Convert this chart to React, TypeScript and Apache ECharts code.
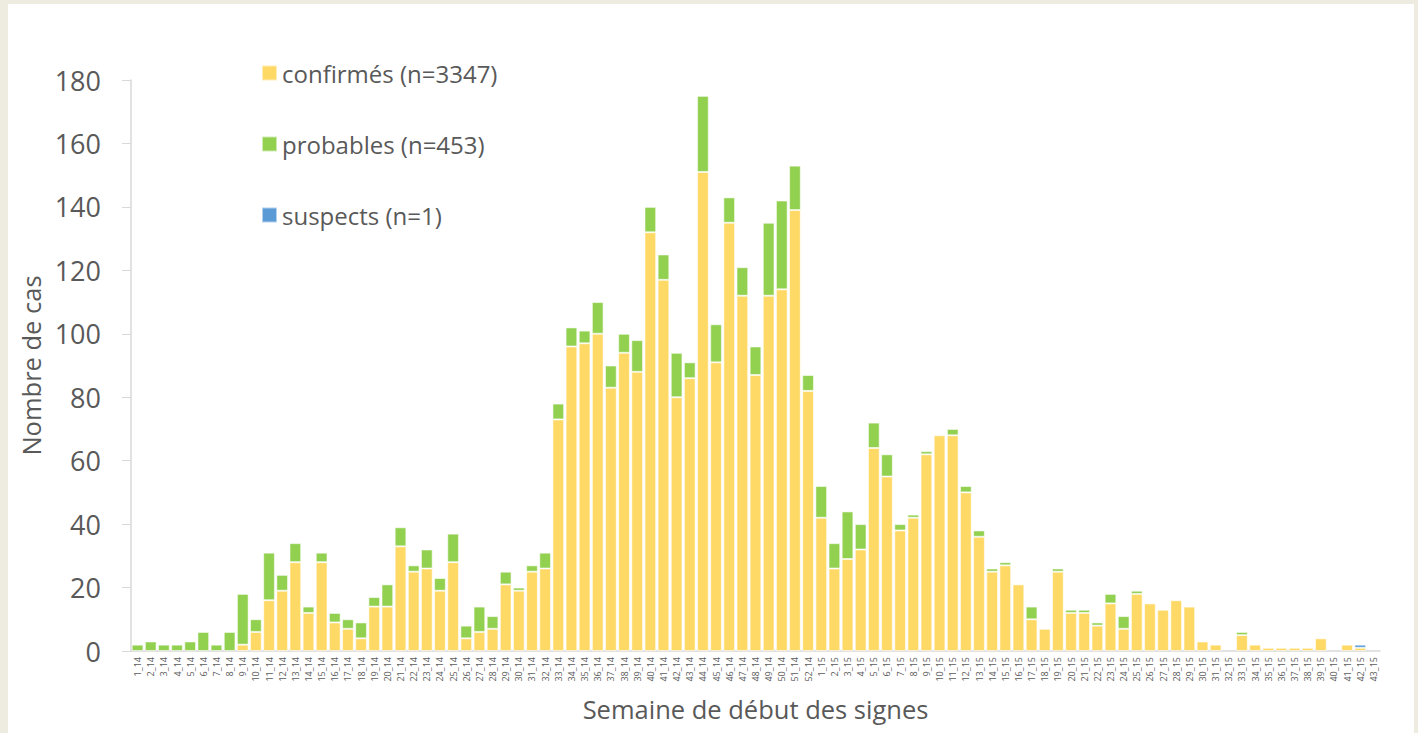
import React, { useEffect, useRef } from "react";
import * as echarts from "echarts";

const weeks2014: string[] = Array.from({ length: 52 }, (_, i) => `${i + 1}_14`);
const weeks2015: string[] = Array.from({ length: 43 }, (_, i) => `${i + 1}_15`);
const categories: string[] = [...weeks2014, ...weeks2015];

// confirmed cases per week (2014 weeks 1..52, then 2015 weeks 1..43)
const confirmes: number[] = [
  0, 0, 0, 0, 0, 0, 0, 0, 2, 6, 16, 19, 28, 12, 28, 9, 7, 4, 14, 14, 33, 25, 26, 19, 28, 4,
  6, 7, 21, 19, 25, 26, 73, 96, 97, 100, 83, 94, 88, 132, 117, 80, 86, 151, 91, 135, 112, 87, 112, 114, 139, 82,
  42, 26, 29, 32, 64, 55, 38, 42, 62, 68, 68, 50, 36, 25, 27, 21, 10, 7, 25, 12, 12, 8,
  15, 7, 18, 15, 13, 16, 14, 3, 2, 0, 5, 2, 1, 1, 1, 1, 4, 0, 2, 1, 0,
];

// probable cases per week
const probables: number[] = [
  2, 3, 2, 2, 3, 6, 2, 6, 16, 4, 15, 5, 6, 2, 3, 3, 3, 5, 3, 7, 6, 2, 6, 4, 9, 4,
  8, 4, 4, 1, 2, 5, 5, 6, 4, 10, 7, 6, 10, 8, 8, 14, 5, 24, 12, 8, 9, 9, 23, 28, 14, 5,
  10, 8, 15, 8, 8, 7, 2, 1, 1, 0, 2, 2, 2, 1, 1, 0, 4, 0, 1, 1, 1, 1,
  3, 4, 1, 0, 0, 0, 0, 0, 0, 0, 1, 0, 0, 0, 0, 0, 0, 0, 0, 0, 0,
];

// suspect cases per week
const suspects: number[] = [
  0, 0, 0, 0, 0, 0, 0, 0, 0, 0, 0, 0, 0, 0, 0, 0, 0, 0, 0, 0, 0, 0, 0, 0, 0, 0,
  0, 0, 0, 0, 0, 0, 0, 0, 0, 0, 0, 0, 0, 0, 0, 0, 0, 0, 0, 0, 0, 0, 0, 0, 0, 0,
  0, 0, 0, 0, 0, 0, 0, 0, 0, 0, 0, 0, 0, 0, 0, 0, 0, 0, 0, 0, 0, 0,
  0, 0, 0, 0, 0, 0, 0, 0, 0, 0, 0, 0, 0, 0, 0, 0, 0, 0, 0, 1, 0,
];

const seriesNames: string[] = ["confirmés (n=3347)", "probables (n=453)", "suspects (n=1)"];
const seriesColors: string[] = ["#FFD966", "#92D050", "#5B9BD5"];

const FONT = "'Open Sans', sans-serif";
const TEXT = "#595959";

export default function App() {
  const ref = useRef<HTMLDivElement>(null);

  useEffect(() => {
    if (!ref.current) return;
    const chart = echarts.init(ref.current, undefined, { renderer: "svg" });
    const toData = (arr: number[]) => arr.map((v) => (v === 0 ? null : v));
    const allSeries = [confirmes, probables, suspects];
    chart.setOption({
      animation: false,
      backgroundColor: "#EEEBE0",
      textStyle: { fontFamily: FONT },
      graphic: [
        {
          type: "rect",
          z: -10,
          silent: true,
          shape: { x: 8, y: 4, width: 1406, height: 740 },
          style: { fill: "#FFFFFF" },
        },
      ],
      legend: {
        orient: "vertical",
        left: 261,
        top: 61,
        padding: 0,
        itemWidth: 15,
        itemHeight: 15,
        itemGap: 47,
        icon: "rect",
        textStyle: { fontSize: 24, color: TEXT, fontFamily: FONT, lineHeight: 24 },
        data: seriesNames,
      },
      grid: { left: 131, right: 38, top: 80, bottom: 82, containLabel: false },
      xAxis: {
        type: "category",
        data: categories,
        name: "Semaine de début des signes",
        nameLocation: "middle",
        nameGap: 45,
        nameTextStyle: { fontSize: 25.5, color: TEXT, fontFamily: FONT },
        axisLine: { lineStyle: { color: "#D9D9D9", width: 1.5 } },
        axisTick: { show: false },
        axisLabel: {
          interval: 0,
          rotate: 90,
          fontSize: 9,
          color: TEXT,
          margin: 6,
          fontFamily: FONT,
        },
      },
      yAxis: {
        type: "value",
        min: 0,
        max: 180,
        interval: 20,
        name: "Nombre de cas",
        nameLocation: "middle",
        nameGap: 83,
        nameRotate: 90,
        nameTextStyle: { fontSize: 25.5, color: TEXT, fontFamily: FONT },
        axisLine: { show: true, lineStyle: { color: "#D9D9D9", width: 1.5 } },
        axisTick: { show: true, length: 9, lineStyle: { color: "#D9D9D9" } },
        splitLine: { show: false },
        axisLabel: { fontSize: 27, color: TEXT, margin: 30, fontFamily: FONT },
      },
      series: seriesNames.map((name, i) => ({
        name,
        type: "bar",
        stack: "total",
        barCategoryGap: "11%",
        itemStyle: {
          color: seriesColors[i],
          borderColor: "rgba(255,255,255,0.55)",
          borderWidth: 1,
        },
        data: toData(allSeries[i]),
      })),
    });
    return () => chart.dispose();
  }, []);

  return (
    <div
      ref={ref}
      style={{ position: "absolute", left: 0, top: 0, width: 1418, height: 733 }}
    />
  );
}
